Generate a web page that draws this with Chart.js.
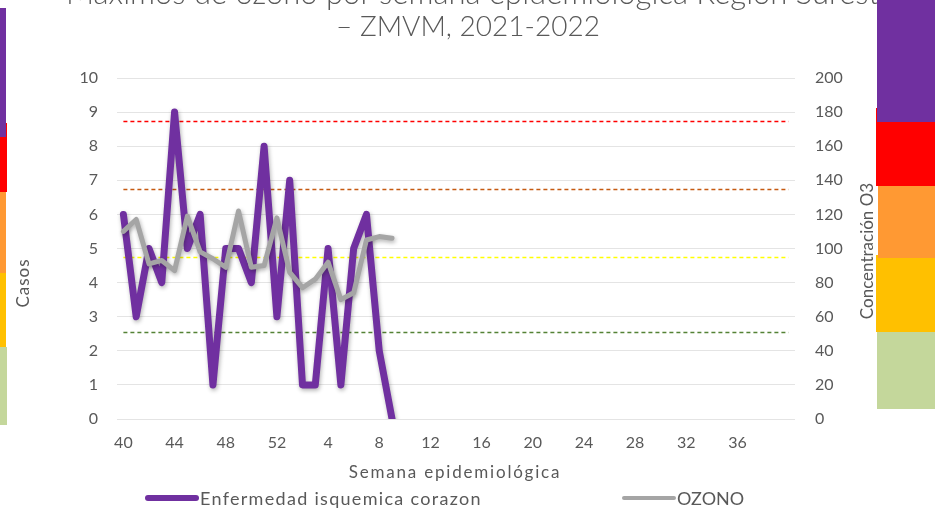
<!DOCTYPE html>
<html lang="es">
<head>
<meta charset="utf-8">
<title>Máximos de ozono por semana epidemiológica</title>
<script src="https://cdn.jsdelivr.net/npm/chart.js@4.4.1/dist/chart.umd.min.js"></script>
<style>
  html, body { margin: 0; padding: 0; background: #ffffff; }
  body { width: 935px; height: 508px; position: relative; overflow: hidden;
         font-family: Lato, "Open Sans", "DejaVu Sans", sans-serif; color: #595959; }
  #chart { position: absolute; left: 0; top: 0; }
  .title { position: absolute; font-weight: 300; color: #595959; white-space: nowrap; }
  .title-1 { left: 66px; top: -24px; font-size: 31px; line-height: 32px; }
  .title-2 { left: 0; top: 9px; width: 936px; text-align: center; font-size: 28px; line-height: 32px; }
  .axis-title { position: absolute; font-size: 17px; white-space: nowrap; color: #595959; }
  .vertical { transform: translate(-50%, -50%) rotate(-90deg); }
  .band { position: absolute; }
  .legend-item { position: absolute; top: 488px; font-size: 18px; line-height: 20px; white-space: nowrap; color: #595959; }
  .legend-swatch { position: absolute; border-radius: 4px; }
</style>
</head>
<body>
<canvas id="chart" width="935" height="508"></canvas>

<div class="title title-1">Máximos de ozono por semana epidemiológica Región Sureste</div>
<div class="title title-2">– ZMVM, 2021-2022</div>

<div class="axis-title vertical" style="left:22px; top:283px; letter-spacing:1px;">Casos</div>
<div class="axis-title vertical" style="left:866px; top:251px;">Concentración O3</div>
<div class="axis-title" style="left:455px; top:461px; transform:translateX(-50%); letter-spacing:1.8px;">Semana epidemiológica</div>

<div id="legend"></div>

<!-- colour scale of the ozone index, left edge -->
<div class="band" style="left:0; top:123px; width:7px; height:69px; background:#FF0000;"></div>
<div class="band" style="left:0; top:273px; width:6px; height:74px; background:#FFC000;"></div>
<div class="band" style="left:0; top:192px; width:6px; height:81px; background:#FF9933;"></div>
<div class="band" style="left:0; top:347px; width:7px; height:78px; background:#C4D79B;"></div>
<div class="band" style="left:0; top:8px; width:6px; height:129px; background:#7030A0;"></div>

<!-- colour scale of the ozone index, right edge -->
<div class="band" style="left:876px; top:108px; width:59px; height:78px; background:#FF0000;"></div>
<div class="band" style="left:876px; top:255px; width:59px; height:77px; background:#FFC000;"></div>
<div class="band" style="left:878px; top:186px; width:57px; height:72px; background:#FF9933;"></div>
<div class="band" style="left:877px; top:332px; width:58px; height:77px; background:#C4D79B;"></div>
<div class="band" style="left:877px; top:0; width:58px; height:122px; background:#7030A0;"></div>

<script>
// Epidemiological weeks, 2021 week 40 through 2022 week 40
const weeks = [40, 41, 42, 43, 44, 45, 46, 47, 48, 49, 50, 51, 52,
               1, 2, 3, 4, 5, 6, 7, 8, 9, 10, 11, 12, 13, 14, 15, 16, 17, 18, 19, 20,
               21, 22, 23, 24, 25, 26, 27, 28, 29, 30, 31, 32, 33, 34, 35, 36, 37, 38, 39, 40];

// Weekly cases of ischaemic heart disease (weeks 40/2021 – 9/2022)
const casos = [6, 3, 5, 4, 9, 5, 6, 1, 5, 5, 4, 8, 3, 7, 1, 1, 5, 1, 5, 6, 2, 0];

// Weekly ozone maximum (ppb)
const ozono = [110, 117, 91, 93, 87, 119, 98, 94, 89, 122, 89, 90, 118, 86, 77, 82, 92, 70, 74, 105, 107, 106];

// Ozone index limits (ppb)
const limitesOzono = [51, 95, 135, 175];
const coloresLimite = ['#548235', '#FFFF00', '#C55A11', '#FF0000'];

const casosLabel = 'Enfermedad isquemica corazon';
const ozonoLabel = 'OZONO';
const casosColor = '#7030A0';
const ozonoColor = '#A5A5A5';

// Custom legend
(function buildLegend() {
  const legend = document.getElementById('legend');
  const items = [
    { text: casosLabel, color: casosColor, x: 145, w: 54, h: 6, spacing: 1.3 },
    { text: ozonoLabel, color: ozonoColor, x: 622, w: 54, h: 4, spacing: 0 }
  ];
  items.forEach(it => {
    const sw = document.createElement('div');
    sw.className = 'legend-swatch';
    sw.style.left = it.x + 'px';
    sw.style.top = (498 - it.h / 2) + 'px';
    sw.style.width = it.w + 'px';
    sw.style.height = it.h + 'px';
    sw.style.background = it.color;
    legend.appendChild(sw);
    const tx = document.createElement('div');
    tx.className = 'legend-item';
    tx.style.left = (it.x + it.w + 1) + 'px';
    tx.style.letterSpacing = it.spacing + 'px';
    tx.textContent = it.text;
    legend.appendChild(tx);
  });
})();

// Dashed ozone-limit lines on the right axis
const limitLines = {
  id: 'limitLines',
  beforeDatasetsDraw(chart) {
    const { ctx, scales } = chart;
    const x0 = scales.x.getPixelForValue(0);
    const x1 = scales.x.getPixelForValue(weeks.length - 1);
    ctx.save();
    ctx.lineWidth = 1.4;
    ctx.setLineDash([4, 3]);
    limitesOzono.forEach((v, i) => {
      const y = Math.round(scales.y1.getPixelForValue(v)) + 0.5;
      ctx.strokeStyle = coloresLimite[i];
      ctx.beginPath();
      ctx.moveTo(x0, y);
      ctx.lineTo(x1, y);
      ctx.stroke();
    });
    ctx.restore();
  }
};

// Soft drop shadow under the series lines
const lineShadow = {
  id: 'lineShadow',
  beforeDatasetDraw(chart) {
    const ctx = chart.ctx;
    ctx.save();
    ctx.shadowColor = 'rgba(0,0,0,0.30)';
    ctx.shadowBlur = 4;
    ctx.shadowOffsetX = 1;
    ctx.shadowOffsetY = 2;
  },
  afterDatasetDraw(chart) {
    chart.ctx.restore();
  }
};

const tickFont = { family: 'Lato, "Open Sans", sans-serif', size: 16 };

new Chart(document.getElementById('chart'), {
  type: 'line',
  data: {
    labels: weeks,
    datasets: [
      {
        label: casosLabel,
        data: casos,
        yAxisID: 'y',
        borderColor: casosColor,
        borderWidth: 7,
        borderJoinStyle: 'round',
        borderCapStyle: 'round',
        pointRadius: 0,
        tension: 0,
        order: 2
      },
      {
        label: ozonoLabel,
        data: ozono,
        yAxisID: 'y1',
        borderColor: ozonoColor,
        borderWidth: 5,
        borderJoinStyle: 'round',
        borderCapStyle: 'round',
        pointRadius: 0,
        tension: 0,
        order: 1
      }
    ]
  },
  options: {
    responsive: false,
    animation: false,
    devicePixelRatio: 1,
    layout: { padding: { top: 78, left: 0, right: 0, bottom: 0 } },
    plugins: {
      legend: { display: false },
      title: { display: false },
      tooltip: { enabled: false }
    },
    scales: {
      x: {
        type: 'category',
        offset: true,
        grid: { display: false, drawTicks: false },
        border: { display: false },
        ticks: {
          autoSkip: false,
          maxRotation: 0,
          padding: 14,
          color: '#595959',
          font: tickFont,
          callback: (v, i) => (i % 4 === 0 && i < weeks.length - 1) ? String(weeks[i]) : ''
        },
        afterFit: s => { s.height = 89; }
      },
      y: {
        position: 'left',
        min: 0,
        max: 10,
        grid: { color: '#E4E4E4', lineWidth: 1, drawTicks: false },
        border: { display: false },
        ticks: { stepSize: 1, padding: 19, color: '#595959', font: tickFont },
        afterFit: s => { s.width = 117; }
      },
      y1: {
        position: 'right',
        min: 0,
        max: 200,
        grid: { display: false, drawTicks: false },
        border: { display: false },
        ticks: { stepSize: 20, padding: 20, color: '#595959', font: tickFont },
        afterFit: s => { s.width = 140; }
      }
    }
  },
  plugins: [limitLines, lineShadow]
});
</script>
</body>
</html>
